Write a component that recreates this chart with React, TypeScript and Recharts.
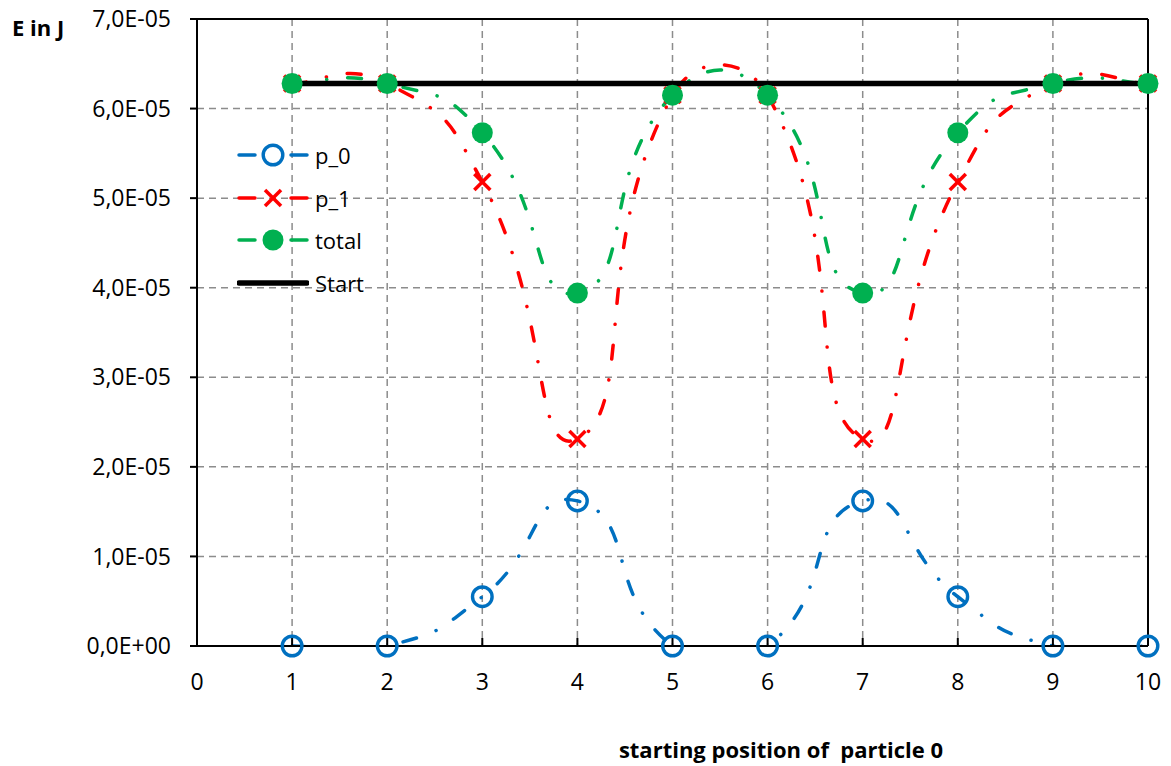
import React from 'react'
import { LineChart, Line, XAxis, YAxis, CartesianGrid, ReferenceLine } from 'recharts'

// starting positions of particle 0
const positions = [1, 2, 3, 4, 5, 6, 7, 8, 9, 10]

// energies in J
const p0Values = [0, 0, 0.55e-5, 1.62e-5, 0, 0, 1.62e-5, 0.55e-5, 0, 0]
const p1Values = [6.28e-5, 6.28e-5, 5.18e-5, 2.31e-5, 6.15e-5, 6.15e-5, 2.31e-5, 5.18e-5, 6.28e-5, 6.28e-5]
const totalValues = [6.28e-5, 6.28e-5, 5.73e-5, 3.94e-5, 6.15e-5, 6.15e-5, 3.94e-5, 5.73e-5, 6.28e-5, 6.28e-5]
const startValues = [6.28e-5, 6.28e-5, 6.28e-5, 6.28e-5, 6.28e-5, 6.28e-5, 6.28e-5, 6.28e-5, 6.28e-5, 6.28e-5]

const xTicks = [0, 1, 2, 3, 4, 5, 6, 7, 8, 9, 10]
const yTicks = [0, 1e-5, 2e-5, 3e-5, 4e-5, 5e-5, 6e-5, 7e-5]

const FONT = '"Open Sans", "Noto Sans", sans-serif'
const DASH_DOT = '14 21 0.1 21'
const Y_DOMAIN: [number, number] = [0, 7e-5]

type MarkerKind = 'ring' | 'cross' | 'disc' | null

interface SeriesDef {
  key: string
  name: string
  color: string
  marker: MarkerKind
  dashed: boolean
  width: number
}

const SERIES: SeriesDef[] = [
  { key: 'p0', name: 'p_0', color: '#0070c0', marker: 'ring', dashed: true, width: 3.5 },
  { key: 'p1', name: 'p_1', color: '#ff0000', marker: 'cross', dashed: true, width: 3.5 },
  { key: 'total', name: 'total', color: '#00b050', marker: 'disc', dashed: true, width: 3.5 },
  { key: 'start', name: 'Start', color: '#000000', marker: null, dashed: false, width: 5.5 },
]

const chartData = positions.map((x, i) => ({
  x,
  p0: p0Values[i],
  p1: p1Values[i],
  total: totalValues[i],
  start: startValues[i],
}))

function formatSci(v: number) {
  if (v === 0) return '0,0E+00'
  const exp = Math.floor(Math.log10(v) + 1e-9)
  const mant = Math.round((v / Math.pow(10, exp)) * 10) / 10
  const sign = exp < 0 ? '-' : '+'
  return `${mant.toFixed(1).replace('.', ',')}E${sign}${String(Math.abs(exp)).padStart(2, '0')}`
}

// spreadsheet-style smoothed line: bezier segments, tangents weighted by segment length
const SMOOTH = 0.56
function smoothCurve(context: any) {
  let pts: number[][] = []
  const dist = (a: number[], b: number[]) => Math.hypot(b[0] - a[0], b[1] - a[1])
  return {
    areaStart() {},
    areaEnd() {},
    lineStart() { pts = [] },
    lineEnd() {
      const n = pts.length
      if (!n) return
      context.moveTo(pts[0][0], pts[0][1])
      for (let i = 0; i < n - 1; i++) {
        const a = pts[i]
        const b = pts[i + 1]
        const d12 = dist(a, b)
        let c1x = a[0] + (b[0] - a[0]) / 3
        let c1y = a[1] + (b[1] - a[1]) / 3
        let c2x = b[0] - (b[0] - a[0]) / 3
        let c2y = b[1] - (b[1] - a[1]) / 3
        if (i > 0) {
          const p = pts[i - 1]
          const k = (SMOOTH * d12) / (dist(p, a) + d12 || 1)
          c1x = a[0] + (b[0] - p[0]) * k
          c1y = a[1] + (b[1] - p[1]) * k
        }
        if (i < n - 2) {
          const q = pts[i + 2]
          const k = (SMOOTH * d12) / (d12 + dist(b, q) || 1)
          c2x = b[0] - (q[0] - a[0]) * k
          c2y = b[1] - (q[1] - a[1]) * k
        }
        context.bezierCurveTo(c1x, c1y, c2x, c2y, b[0], b[1])
      }
    },
    point(x: number, y: number) { pts.push([+x, +y]) },
  }
}

function Marker({ kind, cx, cy, color }: { kind: MarkerKind; cx: number; cy: number; color: string }) {
  if (kind === 'ring') return <circle cx={cx} cy={cy} r={9.8} fill="none" stroke={color} strokeWidth={3.4} />
  if (kind === 'cross')
    return (
      <g stroke={color} strokeWidth={3.5}>
        <line x1={cx - 8} y1={cy - 8} x2={cx + 8} y2={cy + 8} />
        <line x1={cx - 8} y1={cy + 8} x2={cx + 8} y2={cy - 8} />
      </g>
    )
  if (kind === 'disc') return <circle cx={cx} cy={cy} r={10.5} fill={color} />
  return null
}

function LegendBox() {
  return (
    <div style={{ position: 'absolute', left: 237, top: 134, fontFamily: FONT, fontSize: 22 }}>
      {SERIES.map((s) => (
        <div key={s.key} style={{ display: 'flex', alignItems: 'center', height: 42.5 }}>
          <svg width={72} height={26} style={{ display: 'block' }}>
            {s.dashed ? (
              <g stroke={s.color} strokeWidth={s.width} strokeLinecap="round">
                <line x1={2} y1={13} x2={18} y2={13} />
                <line x1={54} y1={13} x2={70} y2={13} />
              </g>
            ) : (
              <line x1={2} y1={13} x2={70} y2={13} stroke={s.color} strokeWidth={s.width} strokeLinecap="round" />
            )}
            <Marker kind={s.marker} cx={36} cy={13} color={s.color} />
          </svg>
          <span style={{ marginLeft: 6, color: '#000' }}>{s.name}</span>
        </div>
      ))}
    </div>
  )
}

export default function App() {
  return (
    <div style={{ position: 'absolute', left: 0, top: 0, width: 1171, height: 766, background: '#fff', fontFamily: FONT }}>
      <LineChart width={1171} height={766} data={chartData} margin={{ top: 19, right: 23, left: 0, bottom: 0 }}>
        <CartesianGrid stroke="#8c8c8c" strokeWidth={1.5} strokeDasharray="7 5" />
        <XAxis
          dataKey="x"
          type="number"
          domain={[0, 10]}
          ticks={xTicks}
          interval={0}
          height={120}
          axisLine={{ stroke: '#000', strokeWidth: 2 }}
          tickLine={{ stroke: '#000', strokeWidth: 2 }}
          tickSize={-8}
          tickMargin={36}
          tick={{ fill: '#000', fontSize: 23, fontFamily: FONT }}
        />
        {/* visible axis; the curves are clipped to the plot area like the spreadsheet does */}
        <YAxis
          type="number"
          domain={Y_DOMAIN}
          allowDataOverflow
          ticks={yTicks}
          interval={0}
          width={197}
          tickFormatter={formatSci}
          axisLine={{ stroke: '#000', strokeWidth: 2 }}
          tickLine={{ stroke: '#000', strokeWidth: 2 }}
          tickSize={7}
          tickMargin={19}
          tick={{ fill: '#000', fontSize: 23, fontFamily: FONT }}
        />
        {/* same scale, hidden, so markers are not clipped at the axes */}
        <YAxis yAxisId="marks" type="number" domain={Y_DOMAIN} hide />
        <ReferenceLine y={7e-5} stroke="#000" strokeWidth={2} />
        <ReferenceLine x={10} stroke="#000" strokeWidth={2} />
        {SERIES.flatMap((s) => {
          const items = [
            <Line
              key={s.key}
              dataKey={s.key}
              name={s.name}
              type={(s.dashed ? smoothCurve : 'linear') as any}
              stroke={s.color}
              strokeWidth={s.width}
              strokeDasharray={s.dashed ? DASH_DOT : undefined}
              strokeLinecap="round"
              dot={false}
              activeDot={false}
              isAnimationActive={false}
            />,
          ]
          if (s.marker) {
            items.push(
              <Line
                key={`${s.key}-marks`}
                yAxisId="marks"
                dataKey={s.key}
                stroke="none"
                legendType="none"
                dot={(props: any) => (
                  <Marker key={`${s.key}-${props.index}`} kind={s.marker} cx={props.cx} cy={props.cy} color={s.color} />
                )}
                activeDot={false}
                isAnimationActive={false}
              />
            )
          }
          return items
        })}
      </LineChart>
      <LegendBox />
      <div style={{ position: 'absolute', left: 12, top: 13, fontSize: 22, fontWeight: 700, lineHeight: '28px' }}>E in J</div>
      <div
        style={{
          position: 'absolute',
          left: 531,
          width: 500,
          top: 735,
          textAlign: 'center',
          fontSize: 22,
          fontWeight: 700,
          lineHeight: '28px',
          whiteSpace: 'pre',
        }}
      >
        starting position of  particle 0
      </div>
    </div>
  )
}
